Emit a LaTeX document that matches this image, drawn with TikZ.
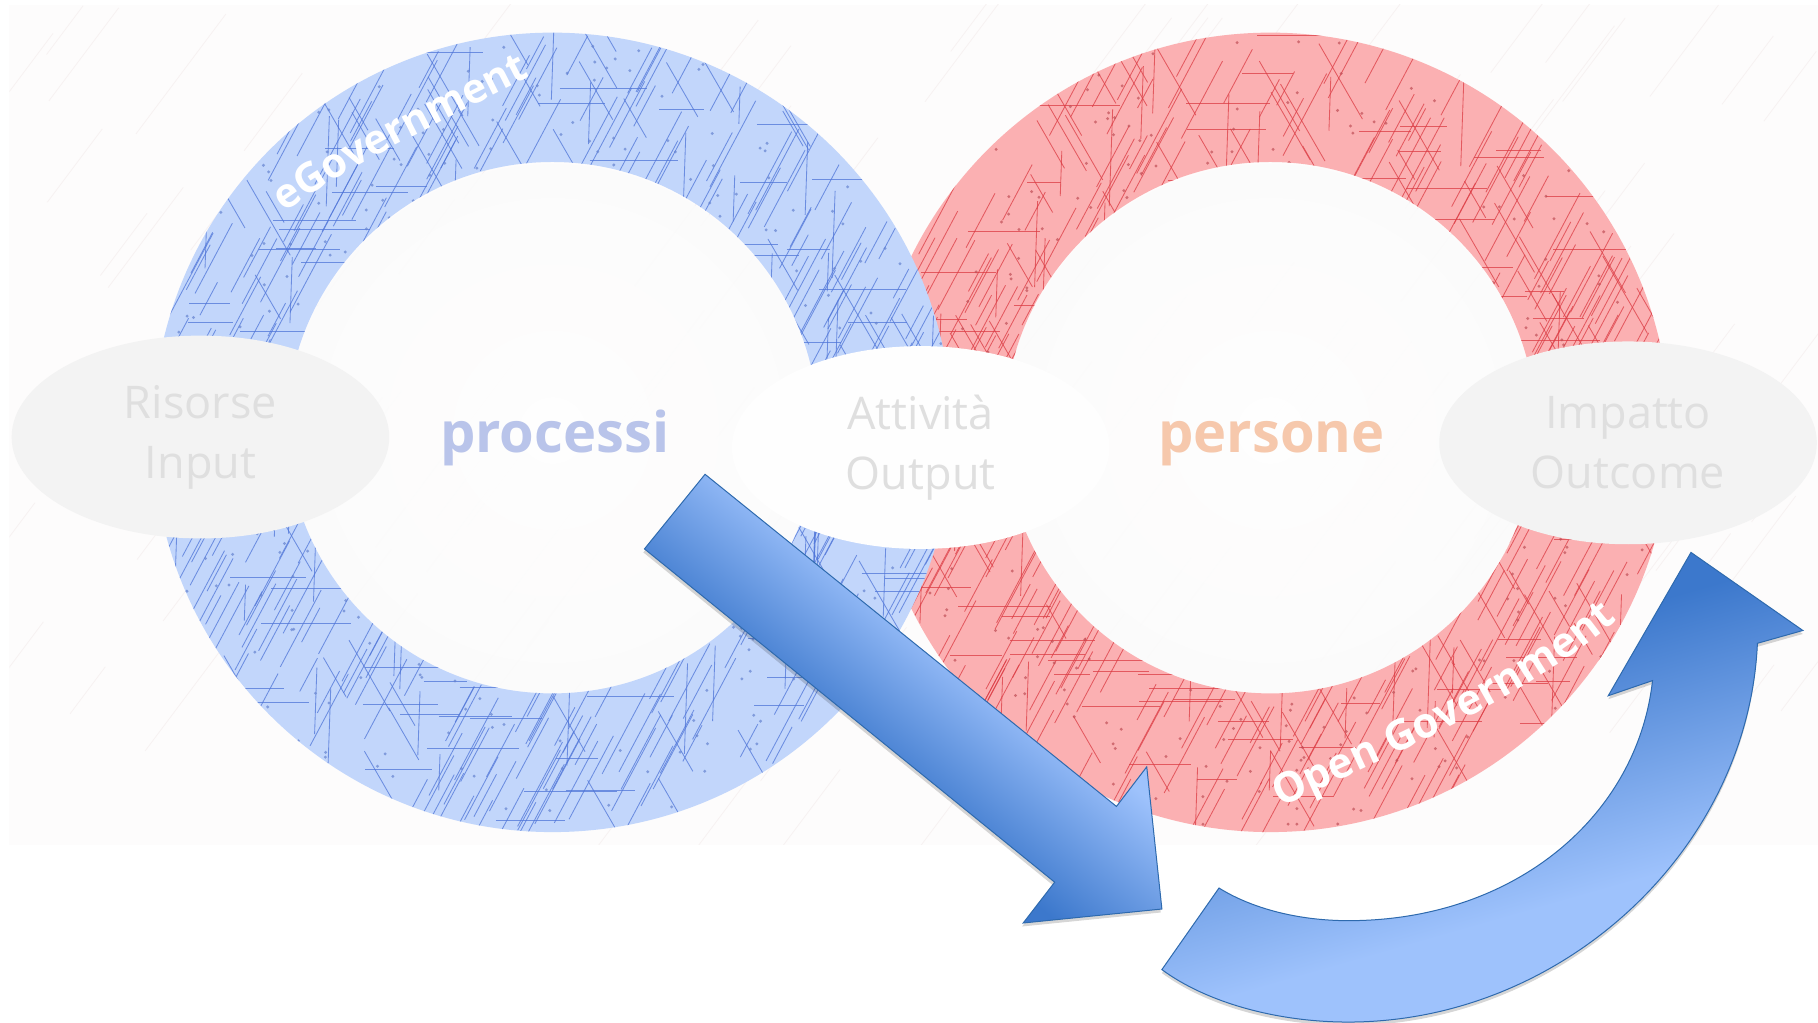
\documentclass[tikz,border=0pt]{standalone}
\usepackage{fontspec}
\setmainfont{Open Sans}
\usetikzlibrary{shapes.geometric,decorations.text}
\definecolor{bgc}{HTML}{FDFCFC}
\definecolor{innerc}{HTML}{FBFBFB}
\definecolor{ringblue}{HTML}{C2D6FB}
\definecolor{ringred}{HTML}{FBB0B2}
\definecolor{lineblue}{HTML}{4F75D8}
\definecolor{linered}{HTML}{DC3C44}
\definecolor{dotblue}{HTML}{6583D0}
\definecolor{dotred}{HTML}{C04E56}
\definecolor{fade}{HTML}{DFDFDF}
\definecolor{ellgrey}{HTML}{F3F3F3}
\definecolor{ellwhite}{HTML}{FEFEFE}
\definecolor{arrowdark}{HTML}{3C78CC}
\definecolor{arrowlight}{HTML}{9EC2FC}
\definecolor{arrowline}{HTML}{2E6AAE}
\definecolor{faintline}{HTML}{F7F2F2}
\definecolor{procc}{HTML}{B9C4EA}
\definecolor{persc}{HTML}{F6C8AC}
\pgfdeclareverticalshading{straightshade}{100bp}{color(0bp)=(arrowdark); color(42bp)=(arrowdark); color(58bp)=(arrowlight); color(100bp)=(arrowlight)}
\pgfdeclareverticalshading{curvedshade}{100bp}{color(0bp)=(arrowlight); color(37bp)=(arrowlight); color(63bp)=(arrowdark); color(100bp)=(arrowdark)}
\newcommand{\hatchring}[5]{% cx, cy, line colour, dot colour, seed
  \pgfmathsetseed{#5}%
  \foreach \i in {1,...,460}{%
    \pgfmathsetmacro\aa{rnd*360}%
    \pgfmathsetmacro\rr{225+rnd*120}%
    \pgfmathsetmacro\tt{rnd}%
    \pgfmathsetmacro\ang{\tt<0.62?62:(\tt<0.76?0:(\tt<0.89?120:88))}%
    \pgfmathsetmacro\ll{14+rnd*28}%
    \pgfmathsetmacro\xa{#1+\rr*cos(\aa)-\ll*cos(\ang)}%
    \pgfmathsetmacro\ya{#2+\rr*sin(\aa)+\ll*sin(\ang)}%
    \pgfmathsetmacro\xb{#1+\rr*cos(\aa)+\ll*cos(\ang)}%
    \pgfmathsetmacro\yb{#2+\rr*sin(\aa)-\ll*sin(\ang)}%
    \draw[#3,line width=0.85pt,opacity=0.75] (\xa,\ya) -- (\xb,\yb);
  }%
  \foreach \i in {1,...,220}{%
    \pgfmathsetmacro\aa{rnd*360}%
    \pgfmathsetmacro\rr{228+rnd*115}%
    \pgfmathsetmacro\xa{#1+\rr*cos(\aa)}%
    \pgfmathsetmacro\ya{#2+\rr*sin(\aa)}%
    \fill[#4,opacity=0.7] (\xa,\ya) circle[radius=1.4];
  }%
}
\tikzset{
  ellbox/.style={ellipse,inner sep=0pt,minimum width=377.6pt,minimum height=202.8pt,align=center,text=fade,
    font=\fontsize{45}{60}\selectfont},
  ringlabel/.style={font=\bfseries\fontsize{56}{64}\selectfont},
  bigarrow/.style={draw=arrowline,line width=1pt,line join=miter},
  arrowshadow/.style={fill=black,opacity=0.16,line width=0pt},
}
\newcommand{\straightarrow}{(605,407) -- (958,692) -- (984,658) -- (997,780) -- (878,792) -- (905,757) -- (553,471) -- cycle}
\newcommand{\curvedarrow}{(1451,474) -- (1547,541) -- (1508,552) .. controls (1500,730) and (1340,877) .. (1157,877) .. controls (1095,877) and (1035,860) .. (997,832) -- (1046,762) .. controls (1075,780) and (1115,790) .. (1157,790) .. controls (1300,790) and (1405,700) .. (1418,584) -- (1380,597) -- cycle}
\begin{document}
\begin{tikzpicture}[x=1.1654pt,y=-1.1654pt]
\useasboundingbox (0,0) rectangle (1560,877.8);
\fill[white] (0,0) rectangle (1560,877.8);
% photographed background
\fill[bgc] (8,4) rectangle (1560,725);
\begin{scope}
  \clip (8,4) rectangle (1560,725);
  \pgfmathsetseed{77}
  \foreach \i in {1,...,170}{%
    \pgfmathsetmacro\xa{rnd*1560}%
    \pgfmathsetmacro\ya{rnd*725}%
    \pgfmathsetmacro\ll{25+rnd*40}%
    \draw[faintline,line width=0.8pt] (\xa-\ll*0.6,\ya+\ll*0.8) -- (\xa+\ll*0.6,\ya-\ll*0.8);
  }
\end{scope}
% rings
\shade[inner color=white,outer color=innerc,opacity=0.9] (474,369) circle[radius=228];
\shade[inner color=white,outer color=innerc,opacity=0.9] (1090,369) circle[radius=228];
\fill[ringred,even odd rule] (1090,371) circle[radius=343] (1090,367) circle[radius=228];
\begin{scope}[even odd rule]
  \clip (1090,371) circle[radius=343] (1090,367) circle[radius=228];
  \hatchring{1090}{371}{linered}{dotred}{2024}
\end{scope}
\fill[ringblue,even odd rule] (474,371) circle[radius=343] (474,367) circle[radius=228];
\begin{scope}[even odd rule]
  \clip (474,371) circle[radius=343] (474,367) circle[radius=228];
  \hatchring{474}{371}{lineblue}{dotblue}{517}
\end{scope}
% ellipses with their labels
\node[ellbox,fill=ellgrey] (risorse) at (172,375) {Risorse\\Input};
\node[ellbox,fill=ellwhite] (attivita) at (790,384) {Attività\\Output};
\node[ellbox,fill=ellgrey] (impatto) at (1397,380) {Impatto\\Outcome};
% ring centre words
\node[ringlabel,text=procc] (processi) at (476,376) {processi};
\node[ringlabel,text=persc] (persone) at (1091,381) {persone};
% ring labels along the ring
\path[decorate,decoration={text along path,text align=center,
  text={|\bfseries\fontsize{41}{46}\selectfont\color{white}|eGovernment}}]
  (238,187) .. controls (300,140) and (390,100) .. (462,62);
\path[decorate,decoration={text along path,text align=center,
  text={|\bfseries\fontsize{42}{48}\selectfont\color{white}|Open Government}}]
  (1096,694) .. controls (1190,650) and (1310,600) .. (1390,530);
% arrows
\fill[arrowshadow,shift={(-1,3)}] \straightarrow;
\path[bigarrow,shade,shading=straightshade,shading angle=-39] \straightarrow;
\fill[arrowshadow,shift={(0,3)}] \curvedarrow;
\path[bigarrow,shade,shading=curvedshade,shading angle=16] \curvedarrow;
\end{tikzpicture}
\end{document}
